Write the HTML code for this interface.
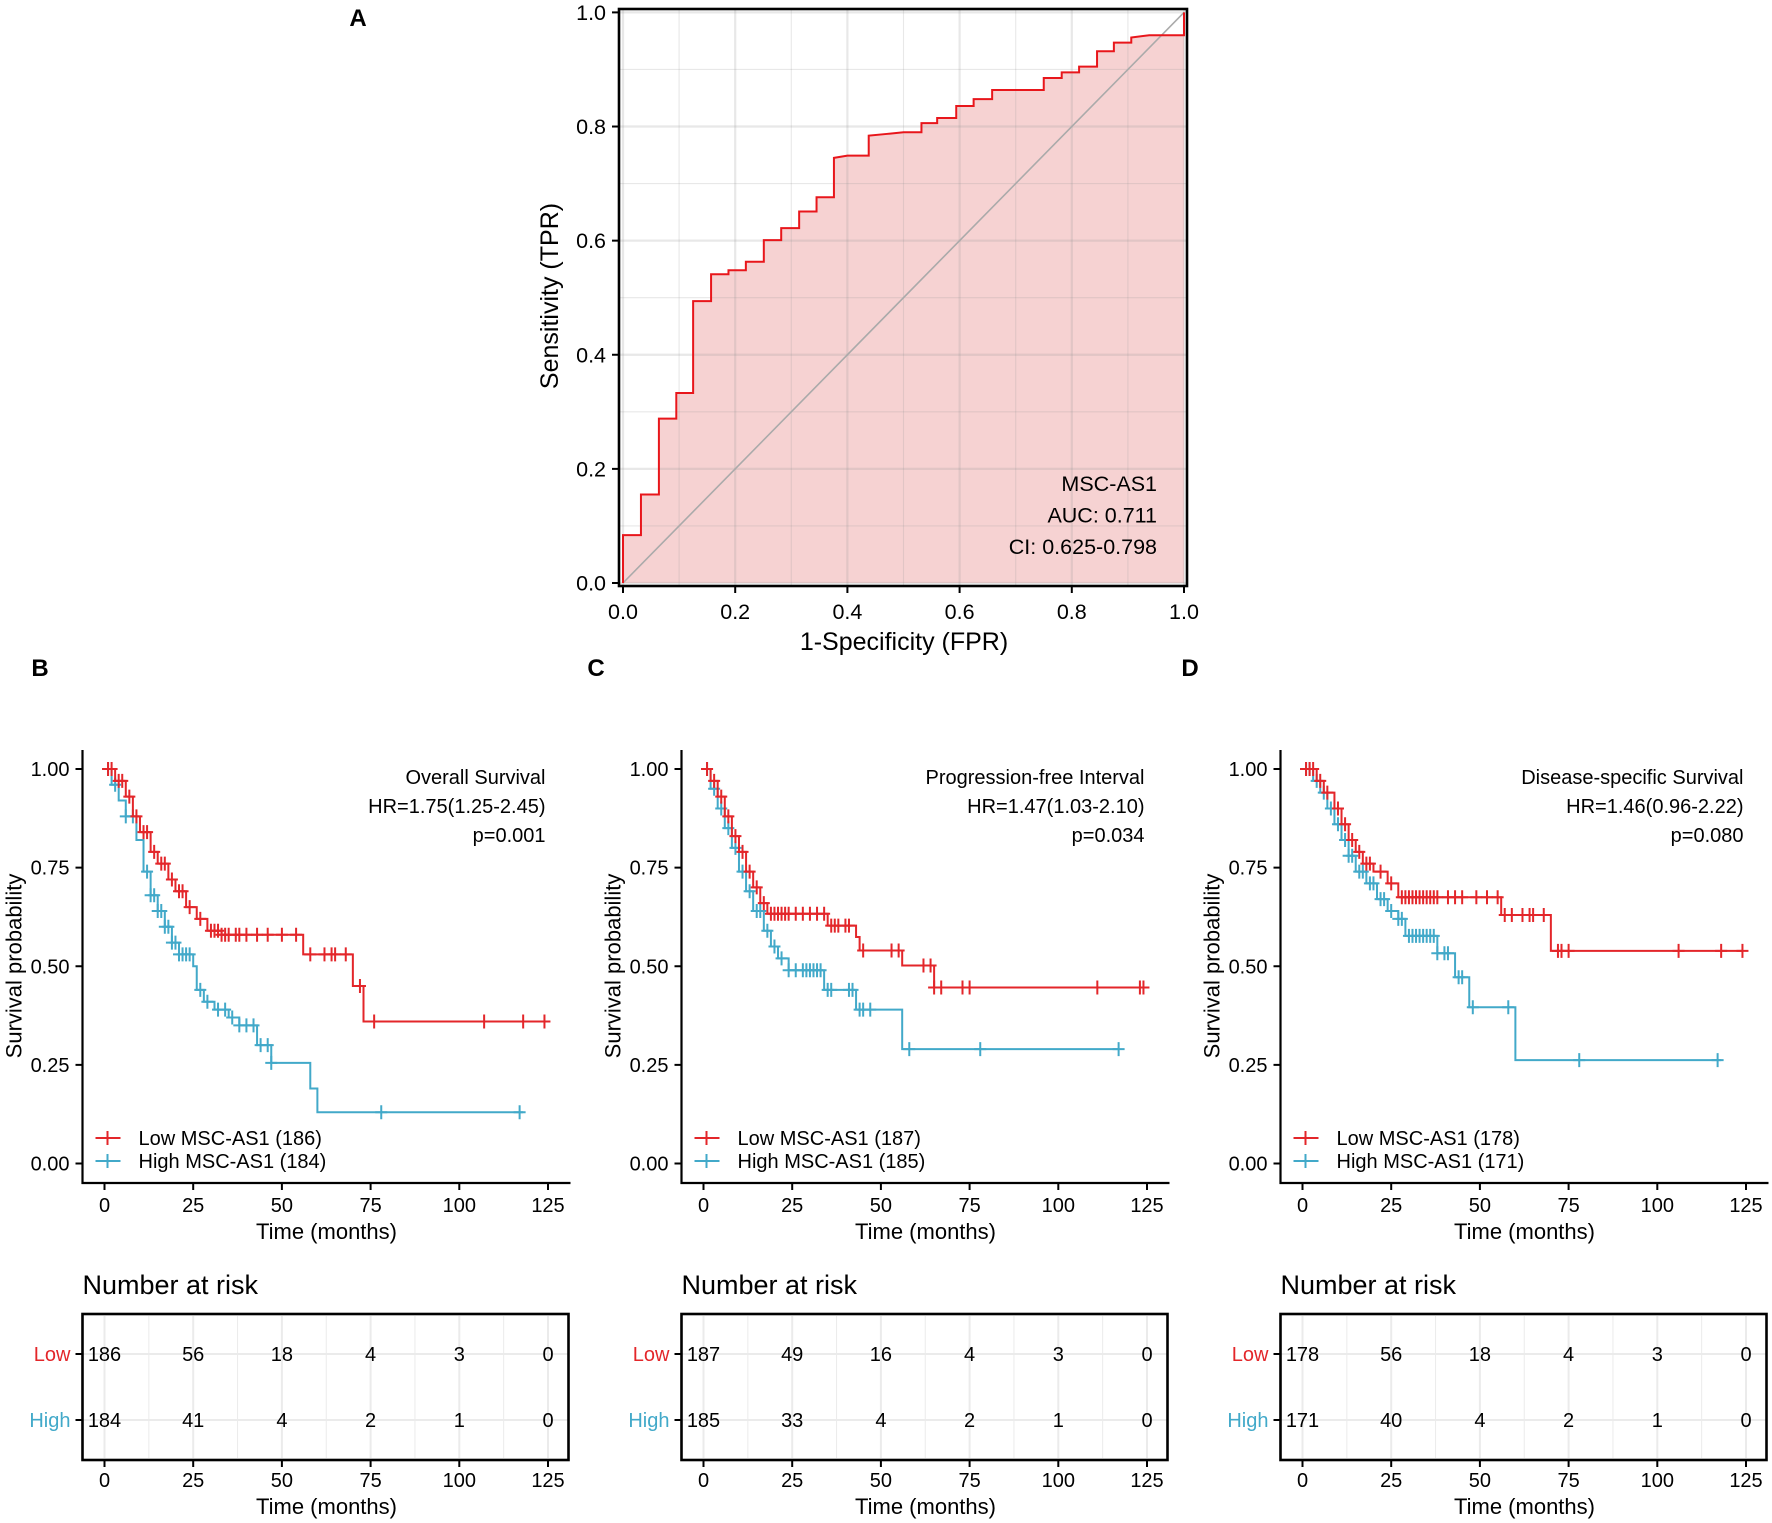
<!DOCTYPE html>
<html><head><meta charset="utf-8"><style>
html,body{margin:0;padding:0;background:#fff;}
svg{display:block;font-family:"Liberation Sans",Arial,sans-serif;}
</style></head><body>
<svg id="fig" width="1772" height="1523" viewBox="0 0 1772 1523" xmlns="http://www.w3.org/2000/svg">
<text x="358" y="26" font-size="24" font-weight="bold" text-anchor="middle">A</text>
<text x="40" y="676" font-size="24" font-weight="bold" text-anchor="middle">B</text>
<text x="596" y="676" font-size="24" font-weight="bold" text-anchor="middle">C</text>
<text x="1190" y="676" font-size="24" font-weight="bold" text-anchor="middle">D</text>
<g id="roc"></g>
<g id="kmB"></g>
<g id="kmC"></g>
<g id="kmD"></g>
</svg>
<script>
// ---- ROC data ----
const rocFpr = [0,0,0.032,0.032,0.064,0.064,0.095,0.095,0.125,0.125,0.157,0.157,0.188,0.188,0.219,0.219,0.251,0.251,0.282,0.282,0.314,0.314,0.345,0.345,0.376,0.376,0.4,0.438,0.438,0.47,0.5,0.532,0.532,0.56,0.56,0.594,0.594,0.625,0.625,0.658,0.658,0.75,0.75,0.782,0.782,0.813,0.813,0.845,0.845,0.875,0.875,0.906,0.906,0.938,1.0,1.0];
const rocTpr = [0,0.084,0.084,0.155,0.155,0.288,0.288,0.333,0.333,0.494,0.494,0.541,0.541,0.548,0.548,0.563,0.563,0.601,0.601,0.622,0.622,0.651,0.651,0.676,0.676,0.745,0.749,0.749,0.784,0.787,0.79,0.79,0.806,0.806,0.815,0.815,0.836,0.836,0.848,0.848,0.864,0.864,0.885,0.885,0.895,0.895,0.905,0.905,0.932,0.932,0.947,0.947,0.956,0.96,0.96,1.0];
const rocTicks = ["0.0","0.2","0.4","0.6","0.8","1.0"];
const rocAnno = ["MSC-AS1","AUC: 0.711","CI: 0.625-0.798"];

// ---- KM data (B: Overall Survival) ----
const bLowT = [0,3,6,8,10,13,15,18,20,23,26,29,33,56,70,73,125];
const bLowS = [1,0.97,0.93,0.88,0.84,0.79,0.76,0.72,0.69,0.65,0.62,0.59,0.58,0.53,0.45,0.36,0.36];
const bLowC = [1,2,4,5,7,9,11,12,14,16,17,19,21,22,24,27,30,31,32,33,34,35,37,38,40,43,46,50,54,58,62,64,65,68,72,76,107,118,124];
const bHighT = [0,2,4,6,9,11,13,15,17,19,21,25,26,28,31,35,38,43,47,58,60,118];
const bHighS = [1,0.96,0.92,0.88,0.82,0.74,0.68,0.64,0.6,0.56,0.53,0.5,0.44,0.41,0.39,0.37,0.35,0.3,0.255,0.19,0.13,0.13];
const bHighC = [1,3,6,8,12,13,14,15,16,17,18,19,20,21,22,23,24,27,29,32,34,36,38,40,42,44,46,47,78,117];
const bLowN = ["186","56","18","4","3","0"];
const bHighN = ["184","41","4","2","1","0"];
const bAnno = ["Overall Survival","HR=1.75(1.25-2.45)","p=0.001"];
const bLegend = ["Low MSC-AS1 (186)","High MSC-AS1 (184)"];

// ---- KM data (C: Progression-free Interval) ----
const cLowT = [0,2,4,6,8,10,12,14,16,18,35,43,44,56,65,124];
const cLowS = [1,0.97,0.93,0.88,0.83,0.79,0.74,0.7,0.66,0.633,0.603,0.574,0.54,0.502,0.446,0.446];
const cLowC = [1,3,5,7,9,11,13,15,17,19,20,21,22,23,24,26,28,30,32,34,36,37,38,40,41,45,53,55,62,64,65,67,73,75,111,123,124];
const cHighT = [0,2,4,6,8,10,12,14,17,19,21,24,34,43,56,117];
const cHighS = [1,0.95,0.9,0.85,0.8,0.74,0.69,0.64,0.59,0.55,0.52,0.49,0.44,0.39,0.29,0.29];
const cHighC = [1,3,5,7,9,11,13,15,16,18,20,22,24,26,28,29,30,31,32,33,35,36,41,42,44,45,47,58,78,117];
const cLowN = ["187","49","16","4","3","0"];
const cHighN = ["185","33","4","2","1","0"];
const cAnno = ["Progression-free Interval","HR=1.47(1.03-2.10)","p=0.034"];
const cLegend = ["Low MSC-AS1 (187)","High MSC-AS1 (185)"];

// ---- KM data (D: Disease-specific Survival) ----
const dLowT = [0,4,6,9,11,13,15,17,20,24,27,56,70,124];
const dLowS = [1,0.97,0.94,0.9,0.86,0.82,0.79,0.76,0.74,0.71,0.675,0.63,0.539,0.539];
const dLowC = [1,2,3,5,7,10,12,14,16,18,19,22,25,28,29,30,31,32,33,34,35,36,37,38,41,43,45,49,52,55,57,59,62,64,65,68,72,73,75,106,118,124];
const dHighT = [0,3,5,7,9,11,13,15,18,21,24,27,29,38,43,47,60,118];
const dHighS = [1,0.97,0.94,0.9,0.86,0.82,0.78,0.74,0.71,0.67,0.64,0.62,0.577,0.533,0.472,0.396,0.262,0.262];
const dHighC = [1,2,4,6,8,10,12,13,14,16,17,19,20,22,23,25,27,28,30,31,32,33,34,35,36,37,38,40,41,44,45,48,58,78,117];
const dLowN = ["178","56","18","4","3","0"];
const dHighN = ["171","40","4","2","1","0"];
const dAnno = ["Disease-specific Survival","HR=1.46(0.96-2.22)","p=0.080"];
const dLegend = ["Low MSC-AS1 (178)","High MSC-AS1 (171)"];

const kmTicks = [0,25,50,75,100,125];
const kmYTicks = [0,0.25,0.5,0.75,1];
const kmYLabels = ["0.00","0.25","0.50","0.75","1.00"];

const RED = "#e3262a", BLUE = "#42a9c9";
const NS = "http://www.w3.org/2000/svg";
function mk(parent, tag, attrs, text){
  const el = document.createElementNS(NS, tag);
  for (const k in attrs) el.setAttribute(k, attrs[k]);
  if (text !== undefined) el.textContent = text;
  parent.appendChild(el);
  return el;
}

// ---------- ROC ----------
(function(){
  const g = document.getElementById('roc');
  const X = f => 623 + f*561, Y = t => 583 - t*570.6;
  let d = "M" + X(rocFpr[0]) + "," + Y(0);
  for (let i=0;i<rocFpr.length;i++) d += " L" + X(rocFpr[i]) + "," + Y(rocTpr[i]);
  d += " L" + X(1) + "," + Y(0) + " Z";
  const fill = mk(g,'path',{d:d, fill:"#f6d2d2", stroke:"none"});
  
  
  for (let i=0;i<=10;i++){
    const v=i/10, w = i%2===0 ? 2.2 : 1.1;
    const gv = mk(g,'line',{x1:X(v),x2:X(v),y1:10,y2:586,stroke:"rgba(150,150,150,0.22)","stroke-width":w});
    
    
    const gh = mk(g,'line',{x1:619,x2:1187,y1:Y(v),y2:Y(v),stroke:"rgba(150,150,150,0.22)","stroke-width":w});
    
    
  }
  const diag = mk(g,'line',{x1:X(0),y1:Y(0),x2:X(1),y2:Y(1),stroke:"#aaaaaa","stroke-width":1.6});
  
  
  let p = "M" + X(rocFpr[0]) + "," + Y(rocTpr[0]);
  for (let i=1;i<rocFpr.length;i++) p += " L" + X(rocFpr[i]) + "," + Y(rocTpr[i]);
  const line = mk(g,'path',{d:p, fill:"none", stroke:"#e8161b","stroke-width":2});
  
  
  const box = mk(g,'rect',{x:619,y:9,width:568,height:577,fill:"none",stroke:"#000","stroke-width":2.6});
  
  
  for (let i=0;i<rocTicks.length;i++){
    const v=i*0.2;
    mk(g,'line',{x1:X(v),x2:X(v),y1:586,y2:593,stroke:"#000","stroke-width":2});
    mk(g,'line',{x1:612,x2:619,y1:Y(v),y2:Y(v),stroke:"#000","stroke-width":2});
    const tx = mk(g,'text',{x:X(v),y:619,"font-size":21.5,"text-anchor":"middle"},rocTicks[i]);
    
    
    const ty = mk(g,'text',{x:606,y:Y(v)+7.5,"font-size":21.5,"text-anchor":"end"},rocTicks[i]);
    
    
  }
  const xt = mk(g,'text',{x:904,y:650,"font-size":25,"text-anchor":"middle"},"1-Specificity (FPR)");
  
  
  const yt = mk(g,'text',{x:0,y:0,"font-size":25,"text-anchor":"middle",transform:"translate(558,296) rotate(-90)"},"Sensitivity (TPR)");
  
  
  rocAnno.forEach((s,i)=>{
    const a = mk(g,'text',{x:1157,y:491+i*31.5,"font-size":21.5,"text-anchor":"end"},s);
    
    
  });
})();

// ---------- KM ----------
function survAt(T,S,t){ let s=S[0]; for(let i=0;i<T.length;i++){ if (T[i]<=t) s=S[i]; } return s; }
function drawKM(id, ox, lowT, lowS, lowC, highT, highS, highC, lowN, highN, anno, legend){
  const g = document.getElementById(id);
  const X = t => ox + 22 + t*3.548, Y = s => 1163.5 - s*394.5;
  const axL = ox;
  const ya = mk(g,'line',{x1:axL,x2:axL,y1:750,y2:1184,stroke:"#000","stroke-width":2.2});
  
  
  const xa = mk(g,'line',{x1:axL-1,x2:ox+488,y1:1183,y2:1183,stroke:"#000","stroke-width":2.2});
  
  
  kmYTicks.forEach((v,i)=>{
    mk(g,'line',{x1:axL-7,x2:axL,y1:Y(v),y2:Y(v),stroke:"#000","stroke-width":2});
    const t = mk(g,'text',{x:axL-13,y:Y(v)+7,"font-size":20,"text-anchor":"end"},kmYLabels[i]);
    
    
  });
  kmTicks.forEach(v=>{
    mk(g,'line',{x1:X(v),x2:X(v),y1:1183,y2:1190,stroke:"#000","stroke-width":2});
    const t = mk(g,'text',{x:X(v),y:1212,"font-size":20,"text-anchor":"middle"},String(v));
    
    
  });
  const xt = mk(g,'text',{x:ox+244,y:1239,"font-size":22,"text-anchor":"middle"},"Time (months)");
  
  
  const yt = mk(g,'text',{x:0,y:0,"font-size":22,"text-anchor":"middle",transform:"translate("+(ox-61)+",966) rotate(-90)"},"Survival probability");
  
  
  function curve(T,S,C,col,name){
    let d = "M"+X(T[0])+","+Y(S[0]);
    for (let i=1;i<T.length;i++){ d += " H"+X(T[i])+" V"+Y(S[i]); }
    const p = mk(g,'path',{d:d,fill:"none",stroke:col,"stroke-width":2});
    
    
    C.forEach(c=>{
      const s = survAt(T,S,c), cx=X(c), cy=Y(s);
      const m = mk(g,'path',{d:"M"+cx+","+(cy-7)+" V"+(cy+7)+" M"+(cx-6)+","+cy+" H"+(cx+6),stroke:col,"stroke-width":2,fill:"none"});
      
      
    });
  }
  curve(highT,highS,highC,BLUE,'high');
  curve(lowT,lowS,lowC,RED,'low');
  anno.forEach((s,i)=>{
    const a = mk(g,'text',{x:ox+463,y:784+i*29,"font-size":20,"text-anchor":"end"},s);
    
    
  });
  [[RED,legend[0],1138],[BLUE,legend[1],1161]].forEach((L,i)=>{
    mk(g,'path',{d:"M"+(ox+13)+","+L[2]+" H"+(ox+38)+" M"+(ox+25)+","+(L[2]-7)+" V"+(L[2]+7),stroke:L[0],"stroke-width":2,fill:"none"});
    const t = mk(g,'text',{x:ox+56,y:L[2]+7,"font-size":20},L[1]);
    
    
  });
  const nt = mk(g,'text',{x:ox,y:1294,"font-size":27},"Number at risk");
  
  
  for (let k=0;k<=10;k++){
    const v=k*12.5;
    mk(g,'line',{x1:X(v),x2:X(v),y1:1316,y2:1458,stroke:"#ebebeb","stroke-width":k%2===0?2:1});
  }
  mk(g,'line',{x1:ox,x2:ox+486,y1:1354,y2:1354,stroke:"#ebebeb","stroke-width":2});
  mk(g,'line',{x1:ox,x2:ox+486,y1:1420,y2:1420,stroke:"#ebebeb","stroke-width":2});
  const box = mk(g,'rect',{x:ox,y:1314,width:486,height:146,fill:"none",stroke:"#000","stroke-width":2.6});
  
  
  [["Low",RED,1354,lowN],["High",BLUE,1420,highN]].forEach(R=>{
    mk(g,'line',{x1:ox-7,x2:ox,y1:R[2],y2:R[2],stroke:"#000","stroke-width":2});
    const l = mk(g,'text',{x:ox-12,y:R[2]+7,"font-size":20,"text-anchor":"end",fill:R[1]},R[0]);
    
    
    R[3].forEach((n,i)=>{
      const t = mk(g,'text',{x:X(kmTicks[i]),y:R[2]+7,"font-size":20,"text-anchor":"middle"},n);
      
      
    });
  });
  kmTicks.forEach(v=>{
    mk(g,'line',{x1:X(v),x2:X(v),y1:1460,y2:1467,stroke:"#000","stroke-width":2});
    const t = mk(g,'text',{x:X(v),y:1487,"font-size":20,"text-anchor":"middle"},String(v));
    
    
  });
  const rt = mk(g,'text',{x:ox+244,y:1514,"font-size":22,"text-anchor":"middle"},"Time (months)");
  
  
}
drawKM('kmB', 82.5, bLowT,bLowS,bLowC,bHighT,bHighS,bHighC,bLowN,bHighN,bAnno,bLegend);
drawKM('kmC', 681.5, cLowT,cLowS,cLowC,cHighT,cHighS,cHighC,cLowN,cHighN,cAnno,cLegend);
drawKM('kmD', 1280.5, dLowT,dLowS,dLowC,dHighT,dHighS,dHighC,dLowN,dHighN,dAnno,dLegend);
</script>
</body></html>
